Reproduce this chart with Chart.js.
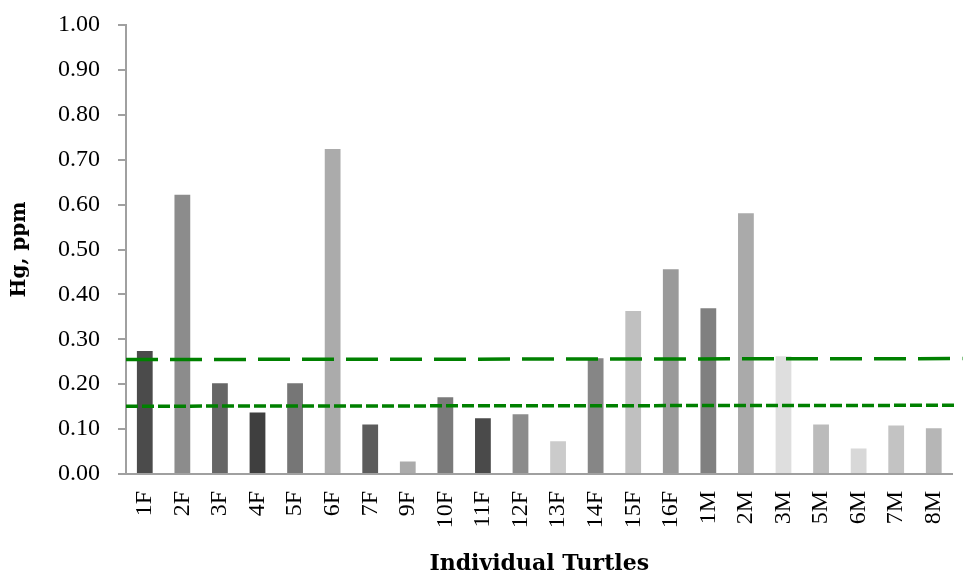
<!DOCTYPE html>
<html>
<head>
<meta charset="utf-8">
<script src="https://cdn.jsdelivr.net/npm/chart.js@4/dist/chart.umd.min.js"></script>
<style>
  html, body { margin: 0; padding: 0; background: #fff; }
  #wrap { width: 980px; height: 581px; }
</style>
</head>
<body>
<div id="wrap"><canvas id="hg-chart" width="980" height="581"></canvas></div>
<script>
// Data
const turtles = ['1F','2F','3F','4F','5F','6F','7F','9F','10F','11F','12F','13F','14F','15F','16F','1M','2M','3M','5M','6M','7M','8M'];
const hgValues = [0.274, 0.622, 0.202, 0.137, 0.202, 0.724, 0.110, 0.028, 0.171, 0.124, 0.133, 0.073, 0.258, 0.363, 0.456, 0.369, 0.581, 0.262, 0.110, 0.057, 0.108, 0.102];
const barGreys = ['#4b4b4b','#8c8c8c','#666666','#3f3f3f','#767676','#ababab','#5c5c5c','#ababab','#7a7a7a','#4a4a4a','#8c8c8c','#cbcbcb','#868686','#c0c0c0','#9a9a9a','#808080','#aaaaaa','#dedede','#bbbbbb','#d8d8d8','#c3c3c3','#b6b6b6'];
const yTicks = [0, 0.1, 0.2, 0.3, 0.4, 0.5, 0.6, 0.7, 0.8, 0.9, 1.0];
// reference lines (start, end) in ppm
const longDashLine = [0.255, 0.257];
const shortDashLine = [0.151, 0.153];

const serif = '"Liberation Serif", "Times New Roman", serif';
const titleFont = '"DejaVu Serif", Cambria, serif';

const ctx = document.getElementById('hg-chart').getContext('2d');
new Chart(ctx, {
    type: 'bar',
    data: {
        labels: turtles,
        datasets: [{
            type: 'bar',
            data: hgValues,
            backgroundColor: barGreys,
            borderWidth: 0,
            grouped: false,
            barPercentage: 0.84,
            categoryPercentage: 0.5,
            order: 2
        }, {
            type: 'line',
            xAxisID: 'x2',
            data: [{ x: 0, y: longDashLine[0] }, { x: 1.012, y: longDashLine[1] }],
            borderColor: '#008000',
            borderWidth: 3.5,
            borderDash: [32, 12],
            pointRadius: 0,
            fill: false,
            clip: false,
            order: 1
        }, {
            type: 'line',
            xAxisID: 'x2',
            data: [{ x: 0, y: shortDashLine[0] }, { x: 1.005, y: shortDashLine[1] }],
            borderColor: '#008000',
            borderWidth: 3.5,
            borderDash: [12, 4],
            pointRadius: 0,
            fill: false,
            clip: false,
            order: 1
        }]
    },
    options: {
        responsive: false,
        animation: false,
        layout: { padding: { top: 25, right: 19, bottom: 4, left: 8 } },
        plugins: {
            legend: { display: false },
            tooltip: { enabled: false }
        },
        scales: {
            x: {
                type: 'category',
                offset: true,
                afterFit: function(scale) { scale.height = 103; },
                grid: { display: false, drawTicks: false },
                border: { display: true, color: '#a0a0a0', width: 2 },
                ticks: {
                    color: '#000',
                    font: { family: serif, size: 24 },
                    minRotation: 90,
                    maxRotation: 90,
                    padding: 17,
                    autoSkip: false
                },
                title: {
                    display: true,
                    text: 'Individual Turtles',
                    color: '#000',
                    font: { family: titleFont, size: 22, weight: 'bold' },
                    padding: { top: 4, bottom: 0 }
                }
            },
            x2: {
                type: 'linear',
                display: false,
                offset: false,
                grid: { offset: false },
                min: 0,
                max: 1
            },
            y: {
                min: 0,
                max: 1,
                afterFit: function(scale) {
                    scale.width = 118;
                    scale.paddingTop = 0;
                    scale.paddingBottom = 0;
                },
                afterBuildTicks: function(scale) {
                    scale.ticks = yTicks.map(v => ({ value: v }));
                },
                grid: {
                    drawOnChartArea: false,
                    drawTicks: true,
                    tickLength: 8,
                    color: '#a0a0a0',
                    lineWidth: 2
                },
                border: { display: true, color: '#a0a0a0', width: 2 },
                ticks: {
                    color: '#000',
                    font: { family: serif, size: 24 },
                    padding: 18,
                    callback: v => Number(v).toFixed(2)
                },
                title: {
                    display: true,
                    text: 'Hg, ppm',
                    color: '#000',
                    font: { family: titleFont, size: 20, weight: 'bold' },
                    padding: { top: 0, bottom: 8 }
                }
            }
        }
    }
});
</script>
</body>
</html>
